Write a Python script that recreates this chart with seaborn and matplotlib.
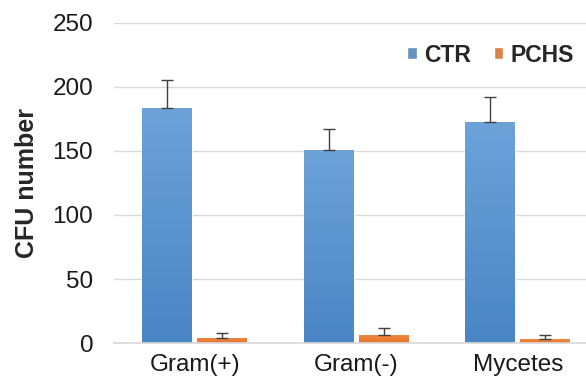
import matplotlib
matplotlib.use("Agg")
import matplotlib.pyplot as plt
from matplotlib.colors import LinearSegmentedColormap
import seaborn as sns
import pandas as pd
import numpy as np

# values
categories = ["Gram(+)", "Gram(-)", "Mycetes"]
groups = ["CTR", "PCHS"]
ctr_mean = [183.5, 151, 172.5]
ctr_err = [22, 16, 20]
pchs_mean = [4, 6.5, 3]
pchs_err = [3.5, 5.5, 3.5]

df = pd.DataFrame({
    "category": categories * 2,
    "group": [groups[0]] * 3 + [groups[1]] * 3,
    "cfu": ctr_mean + pchs_mean,
})
errs = {"CTR": ctr_err, "PCHS": pchs_err}

sns.set_theme(style="white")
plt.rcParams["font.family"] = ["Liberation Sans", "DejaVu Sans"]

palette = {"CTR": "#5690CF", "PCHS": "#ED7D31"}
grads = {"CTR": ("#4A85C5", "#6CA2D8"), "PCHS": ("#E8742A", "#F08A45")}

fig = plt.figure(figsize=(5.86, 3.85), dpi=100)
# plot area runs off the right edge in the reference
ax = fig.add_axes([114 / 586, 1 - 343 / 385, 484.5 / 586, 320 / 385])

sns.barplot(data=df, x="category", y="cfu", hue="group", palette=palette,
            errorbar=None, width=0.68, gap=0.09, ax=ax, zorder=2)

ax.yaxis.grid(True, color="#D9D9D9", linewidth=1)
ax.set_axisbelow(True)
for s in ["top", "right", "left"]:
    ax.spines[s].set_visible(False)
ax.spines["bottom"].set_color("#D9D9D9")
ax.tick_params(axis="both", length=0, labelsize=17.5, colors="#1a1a1a")
ax.tick_params(axis="y", pad=15)
ax.tick_params(axis="x", pad=8)
ax.set_xlabel("")
ax.set_ylabel("CFU number", fontsize=18, fontweight="bold", labelpad=10)

# gradient fill + upper error bars
for cont, g in zip(ax.containers, groups):
    cmap = LinearSegmentedColormap.from_list(g, grads[g])
    for bar, e in zip(cont, errs[g]):
        x0, w, h = bar.get_x(), bar.get_width(), bar.get_height()
        img = ax.imshow(np.linspace(0, 1, 64).reshape(-1, 1), cmap=cmap,
                        origin="lower", extent=[x0, x0 + w, 0, h],
                        aspect="auto", zorder=2.5)
        img.set_clip_path(bar)
        ax.errorbar(x0 + w / 2, h, yerr=[[0], [e]], fmt="none",
                    ecolor="#404040", elinewidth=1, capsize=4, capthick=1,
                    zorder=3)
ax.set_xlim(-0.5, 2.5)
ax.set_ylim(0, 250)
ax.set_yticks(range(0, 251, 50))

ax.legend(loc="center left", bbox_to_anchor=(396 / 586, 1 - 55 / 385),
          bbox_transform=fig.transFigure, frameon=False, ncol=2,
          borderpad=0, handlelength=0.42, handleheight=0.42,
          handletextpad=0.3, columnspacing=1.0,
          prop={"size": 16.5, "weight": "bold"})

fig.savefig("out.png", dpi=100)
